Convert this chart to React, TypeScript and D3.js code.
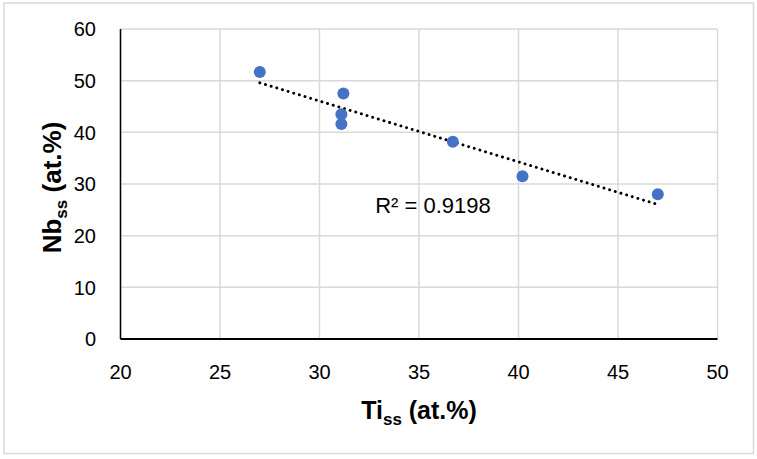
import React, { useMemo } from 'react';
import * as d3 from 'd3';

// Ti_ss vs Nb_ss
const tiValues = [27.0, 31.2, 31.1, 31.1, 36.7, 40.2, 47.0];
const nbValues = [51.7, 47.5, 43.5, 41.6, 38.2, 31.5, 28.0];
const xTicks = [20, 25, 30, 35, 40, 45, 50];
const yTicks = [0, 10, 20, 30, 40, 50, 60];
const r2Text = 'R² = 0.9198';
const r2Anchor = [32.8, 24.3];

const W = 757;
const H = 459;
const FONT = '"Liberation Sans", Arial, sans-serif';

export default function App() {
  const x = d3.scaleLinear().domain([20, 50]).range([120.5, 717.5]);
  const y = d3.scaleLinear().domain([0, 60]).range([339, 29]);

  const points = useMemo(() => tiValues.map((t, i) => ({ t, n: nbValues[i] })), []);

  // least squares trendline, like Excel's linear fit
  const trend = useMemo(() => {
    const mx = d3.mean(tiValues)!;
    const my = d3.mean(nbValues)!;
    let sxy = 0;
    let sxx = 0;
    tiValues.forEach((t, i) => {
      sxy += (t - mx) * (nbValues[i] - my);
      sxx += (t - mx) * (t - mx);
    });
    const slope = sxy / sxx;
    const x0 = d3.min(tiValues)!;
    const x1 = d3.max(tiValues)!;
    return [
      [x0, my + slope * (x0 - mx)],
      [x1, my + slope * (x1 - mx)],
    ];
  }, []);

  const line = d3.line<number[]>().x(d => x(d[0])).y(d => y(d[1]));
  const [x0, x1] = x.range();
  const [y0, y1] = y.range();

  return (
    <svg
      width={W}
      height={H}
      style={{ position: 'absolute', left: 0, top: 0, background: '#fff' }}
      fontFamily={FONT}
    >
      <rect x={4} y={3} width={749.5} height={450.5} fill="#fff" stroke="#d9d9d9" strokeWidth={1.5} />

      {/* grid */}
      {xTicks.map(t => (
        <line key={'gx' + t} x1={x(t)} x2={x(t)} y1={y0} y2={y1} stroke="#d9d9d9" strokeWidth={1.5} />
      ))}
      {yTicks.map(t => (
        <line key={'gy' + t} x1={x0} x2={x1} y1={y(t)} y2={y(t)} stroke="#d9d9d9" strokeWidth={1.5} />
      ))}

      {/* axes */}
      <line x1={x0} x2={x0} y1={y1} y2={y0} stroke="#000" strokeWidth={1.5} />
      <line x1={x0} x2={x1} y1={y0} y2={y0} stroke="#000" strokeWidth={1.8} />

      {/* tick labels */}
      {xTicks.map(t => (
        <text key={'tx' + t} x={x(t)} y={379} textAnchor="middle" fontSize={20} fill="#000">
          {t}
        </text>
      ))}
      {yTicks.map(t => (
        <text key={'ty' + t} x={96} y={y(t) + 7.2} textAnchor="end" fontSize={20} fill="#000">
          {t}
        </text>
      ))}

      {/* trendline, round dots */}
      <path
        d={line(trend) || ''}
        fill="none"
        stroke="#000"
        strokeWidth={2.9}
        strokeLinecap="round"
        strokeDasharray="0.1 5.8"
      />

      {/* points */}
      {points.map((p, i) => (
        <circle key={i} cx={x(p.t)} cy={y(p.n)} r={6} fill="#4472c4" />
      ))}

      <text x={x(r2Anchor[0])} y={y(r2Anchor[1])} fontSize={22} fill="#000">
        {r2Text}
      </text>

      {/* axis titles */}
      <text x={(x0 + x1) / 2} y={419} textAnchor="middle" fontSize={25} fontWeight="bold" fill="#000">
        Ti
        <tspan fontSize={17} dy={6}>ss</tspan>
        <tspan dy={-6}> (at.%)</tspan>
      </text>
      <text
        transform={`translate(61,187.5) rotate(-90)`}
        textAnchor="middle"
        fontSize={26}
        fontWeight="bold"
        fill="#000"
      >
        Nb
        <tspan fontSize={17} dy={6}>ss</tspan>
        <tspan dy={-6}> (at.%)</tspan>
      </text>
    </svg>
  );
}
